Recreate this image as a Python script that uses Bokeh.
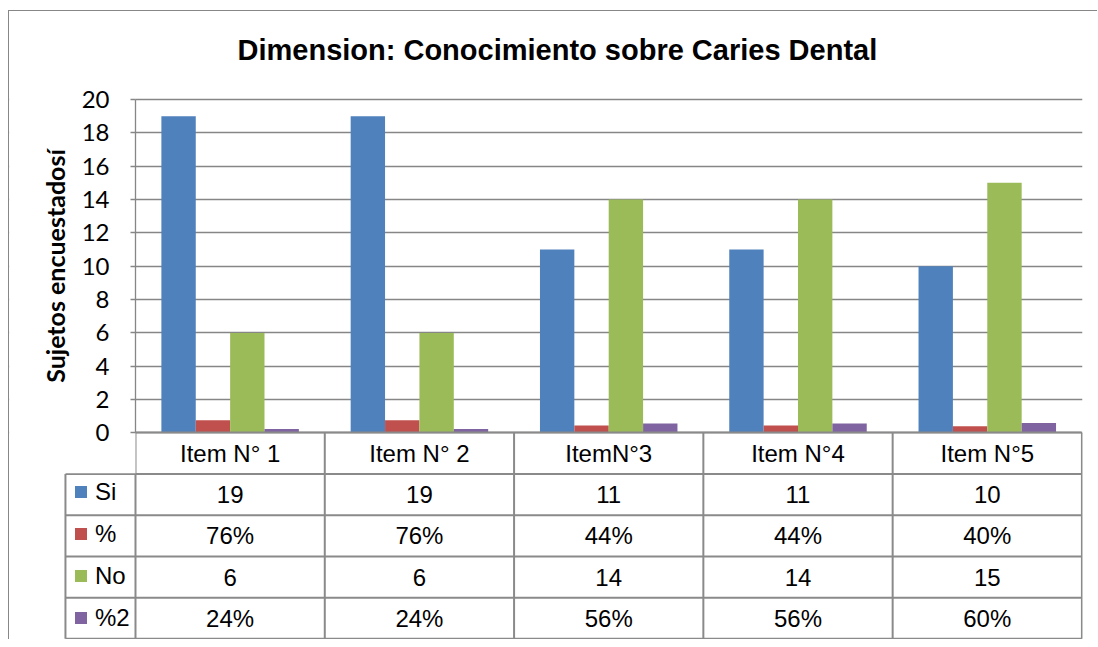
from bokeh.plotting import figure
from bokeh.models import Range1d, FixedTicker, BoxAnnotation, ColumnDataSource
from bokeh.transform import dodge
from bokeh.core.properties import value
from bokeh.embed import file_html
from bokeh.resources import INLINE

# ---------------- data ----------------
chart_title = "Dimension: Conocimiento sobre Caries Dental"
y_title = "Sujetos encuestadosí"
items = ["Item N° 1", "Item N° 2", "ItemN°3", "Item N°4", "Item N°5"]
series_names = ["Si", "%", "No", "%2"]
si = [19, 19, 11, 11, 10]
pct = [0.76, 0.76, 0.44, 0.44, 0.40]
no = [6, 6, 14, 14, 15]
pct2 = [0.24, 0.24, 0.56, 0.56, 0.60]
y_ticks = [0, 2, 4, 6, 8, 10, 12, 14, 16, 18, 20]
colors = ["#4F81BD", "#C0504D", "#9BBB59", "#8064A2"]

# ---------------- layout constants ----------------
RH = 2.47          # table row height (data units)
NROWS = 5          # header + 4 series rows
LEFT_COL = -0.37   # left edge of legend column
GRID = "#868686"
TABLE = "#8A8A8A"
TFONT = "Liberation Sans"

xc = [i + 0.5 for i in range(len(items))]
src = ColumnDataSource(dict(x=xc, si=si, pct=pct, no=no, pct2=pct2))

p = figure(width=1089, height=629,
           x_range=Range1d(-0.6656, len(items) + 0.003),
           y_range=Range1d(-12.45, 21.08),
           output_backend="svg", toolbar_location=None,
           min_border_left=0, min_border_right=16,
           min_border_top=70, min_border_bottom=0)
p.styles = {"margin-left": "8px", "margin-top": "10px",
            "border-left": "1px solid #878787", "border-top": "1px solid #878787"}
p.outline_line_color = None
p.background_fill_color = "white"
p.border_fill_color = "white"

# title
p.title.text = chart_title
p.title.text_font = TFONT
p.title.text_font_style = "bold"
p.title.text_font_size = "29px"
p.title.text_color = "black"
p.title.align = "left"
p.title.offset = 228
p.title.standoff = 32

# y axis
yax = p.yaxis[0]
yax.fixed_location = 0
yax.bounds = (0, 20)
yax.ticker = FixedTicker(ticks=y_ticks)
yax.minor_tick_line_color = None
yax.major_tick_out = 5
yax.major_tick_in = 0
yax.major_label_standoff = 21
yax.axis_line_color = GRID
yax.axis_line_width = 1.3
yax.major_tick_line_color = GRID
yax.major_tick_line_width = 1.3
yax.major_label_text_font = "Lato"
yax.major_label_text_font_size = "24px"
yax.major_label_text_color = "black"
yax.axis_label = y_title
yax.axis_label_text_font = "Lato"
yax.axis_label_text_font_style = "bold"
yax.axis_label_text_font_size = "25px"
yax.axis_label_text_color = "black"
yax.axis_label_standoff = 9

# x axis (category header row of the table)
xax = p.xaxis[0]
xax.fixed_location = 0
xax.bounds = (0, len(items))
xax.ticker = FixedTicker(ticks=xc)
xax.major_label_overrides = {x: lab for x, lab in zip(xc, items)}
xax.major_tick_line_color = None
xax.minor_tick_line_color = None
xax.major_tick_out = 0
xax.major_label_standoff = 7
xax.axis_line_color = TABLE
xax.axis_line_width = 2
xax.major_label_text_font = TFONT
xax.major_label_text_font_size = "24px"
xax.major_label_text_color = "black"

p.xgrid.visible = False
p.ygrid.ticker = FixedTicker(ticks=y_ticks)
p.ygrid.grid_line_color = GRID
p.ygrid.grid_line_width = 1.3

# mask grid lines over the tick-label column
p.add_layout(BoxAnnotation(left=-1, right=0, bottom=-RH + 0.05, top=22,
                           fill_color="white", fill_alpha=1, line_color=None, level="glyph"))

# bars
w = 0.1816
offs = [-1.5 * w, -0.5 * w, 0.5 * w, 1.5 * w]
keys = ["si", "pct", "no", "pct2"]
for key, name, col, off in zip(keys, series_names, colors, offs):
    p.vbar(x=dodge("x", off, range=p.x_range), top=key, width=w, source=src,
           fill_color=col, line_color=None, legend_label=name)

# table grid lines
hy = [-RH * k for k in range(1, NROWS + 1)]
p.segment(x0=[LEFT_COL] * len(hy), x1=[len(items)] * len(hy), y0=hy, y1=hy,
          line_color=TABLE, line_width=2)
vx = list(range(0, len(items) + 1))
p.segment(x0=vx, x1=vx, y0=[0] * len(vx), y1=[-RH * NROWS] * len(vx),
          line_color=TABLE, line_width=2)
p.segment(x0=[LEFT_COL], x1=[LEFT_COL], y0=[-RH], y1=[-RH * NROWS],
          line_color=TABLE, line_width=2)

# table values
rows = [[str(v) for v in si],
        [f"{round(v * 100)}%" for v in pct],
        [str(v) for v in no],
        [f"{round(v * 100)}%" for v in pct2]]
tx, ty, tt = [], [], []
for r, vals in enumerate(rows):
    for i, s in enumerate(vals):
        tx.append(xc[i])
        ty.append(-RH * (r + 1.5))
        tt.append(s)
p.text(x=tx, y=ty, text=tt, text_align="center", text_baseline="middle",
       text_font=value(TFONT), text_font_size="24px", text_color="black")

# legend inside the table's left column
lg = p.legend[0]
lg.location = (64, 8.5)
lg.glyph_width = 15
lg.glyph_height = 15
lg.label_height = 27
lg.spacing = 14
lg.label_standoff = 7
lg.padding = 0
lg.margin = 0
lg.border_line_color = None
lg.background_fill_alpha = 0
lg.label_text_font = TFONT
lg.label_text_font_size = "24px"
lg.label_text_color = "black"

open("out.html", "w").write(file_html(p, INLINE))
